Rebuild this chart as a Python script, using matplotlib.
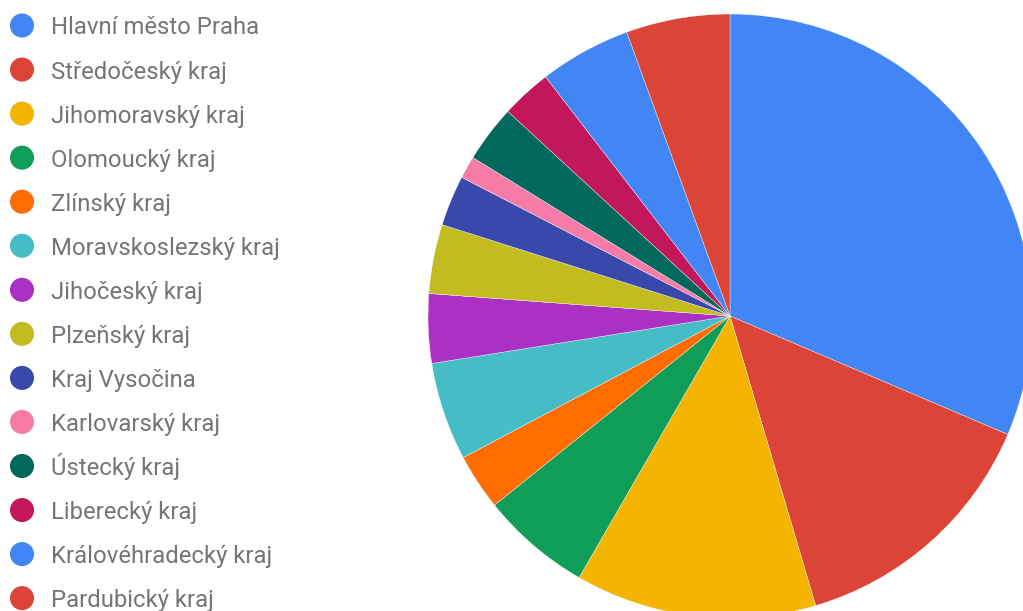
import matplotlib.pyplot as plt

# podíly krajů (v %)
kraje = ["Hlavní město Praha", "Středočeský kraj", "Jihomoravský kraj",
         "Olomoucký kraj", "Zlínský kraj", "Moravskoslezský kraj",
         "Jihočeský kraj", "Plzeňský kraj", "Kraj Vysočina",
         "Karlovarský kraj", "Ústecký kraj", "Liberecký kraj",
         "Královéhradecký kraj", "Pardubický kraj"]
podily = [31.4, 14.0, 12.9, 5.9, 3.0, 5.25, 3.7, 3.7, 2.7, 1.2, 3.05, 2.7, 4.9, 5.55]
barvy = ["#4285F4", "#DB4437", "#F4B400", "#0F9D58", "#FF6D00", "#46BDC6",
         "#AB30C4", "#C2BC21", "#3949AB", "#F67BA6", "#00695C", "#C2185B",
         "#4285F4", "#DB4437"]

W, H = 1023, 611
fig = plt.figure(figsize=(W / 100, H / 100), dpi=100)
ax = fig.add_axes([0, 0, 1, 1])

# kolac - stred a polomer v pixelech
ax.pie(podily, colors=barvy, startangle=90, counterclock=False,
       center=(730, H - 316), radius=302,
       wedgeprops=dict(edgecolor="white", linewidth=0.25))

# legenda vlevo
for i, (nazev, barva) in enumerate(zip(kraje, barvy)):
    y = H - (25.5 + i * 44.05)
    ax.scatter(22, y, s=300, color=barva, edgecolors="none", zorder=3)
    ax.text(51, y - 9, nazev, fontsize=17.2, family=["Roboto", "DejaVu Sans"],
            color="#757575", va="baseline", ha="left")

ax.set_xlim(0, W)
ax.set_ylim(0, H)
ax.set_aspect("equal")
ax.axis("off")

fig.savefig("out.png", dpi=100)
